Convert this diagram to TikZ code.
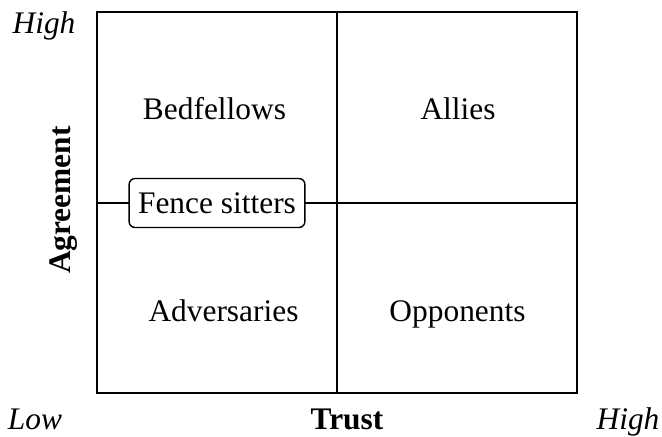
\documentclass[tikz,border=0pt]{standalone}
\usepackage{fontspec}
\setmainfont{Liberation Serif}
\begin{document}
\begin{tikzpicture}[x=0.5pt,y=-0.5pt,
  txt/.style={font=\fontsize{15.7}{18}\selectfont, inner sep=0pt, anchor=base},
  frame/.style={line width=1pt},
  divider/.style={line width=0.8pt},
  fence/.style={font=\fontsize{15.7}{18}\selectfont, inner sep=0pt, draw, fill=white, line width=0.7pt, rounded corners=3pt, inner xsep=4.5pt, minimum height=24.5pt}]
\useasboundingbox (0,0) rectangle (662,436);
\coordinate (tl) at (97,12);
\coordinate (br) at (577,393);
\coordinate (mt) at (337,12);
\coordinate (mb) at (337,393);
\coordinate (ml) at (97,203);
\coordinate (mr) at (577,203);
\draw[divider] (mt) -- (mb);
\draw[divider] (ml) -- (mr);
\draw[frame] (tl) rectangle (br);
\node[txt] (bed) at (214.5,119) {Bedfellows};
\node[txt] (all) at (458,119) {Allies};
\node[txt] (adv) at (223.5,321) {Adversaries};
\node[txt] (opp) at (457.5,321) {Opponents};
\node[fence] (fen) at (217,203) {Fence sitters};
\node[txt, font=\fontsize{15.7}{18}\selectfont\itshape] (hi1) at (44,33) {High};
\node[txt, font=\fontsize{15.7}{18}\selectfont\itshape] (lo) at (35,429) {Low};
\node[txt, font=\fontsize{15.7}{18}\selectfont\bfseries] (tr) at (347,429) {Trust};
\node[txt, font=\fontsize{15.7}{18}\selectfont\itshape] (hi2) at (628,429) {High};
\node[font=\fontsize{15.7}{18}\selectfont\bfseries, inner sep=0pt, rotate=90] (ag) at (64,200) {Agreement};
\end{tikzpicture}
\end{document}
